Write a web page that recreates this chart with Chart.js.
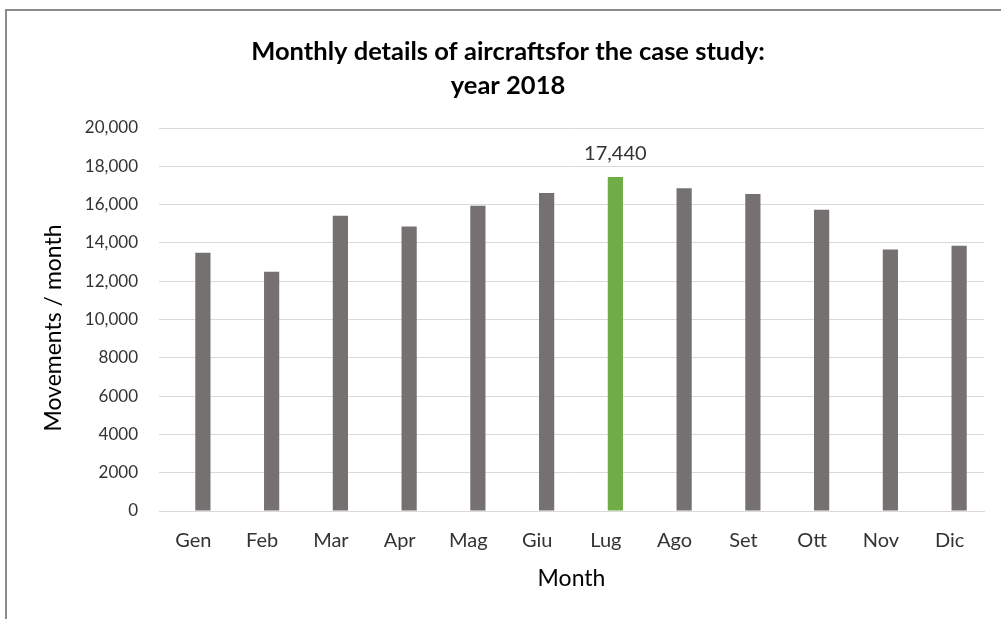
<!DOCTYPE html>
<html><head><meta charset="utf-8">
<script src="https://cdn.jsdelivr.net/npm/chart.js@4.4.1/dist/chart.umd.min.js"></script>
<style>
html,body{margin:0;padding:0;background:#fff;}
#wrap{position:relative;width:1001px;height:619px;overflow:hidden;background:#fff;}
#frame{position:absolute;left:5px;top:9px;width:1100px;height:700px;border-left:2px solid #8c8c8c;border-top:2px solid #8c8c8c;}
canvas{position:absolute;left:0;top:0;}
</style></head><body>
<div id="wrap"><div id="frame"></div><canvas id="c" width="1001" height="619"></canvas></div>
<script>
const months = ['Gen','Feb','Mar','Apr','Mag','Giu','Lug','Ago','Set','Ott','Nov','Dic'];
const movements = [13490,12500,15420,14860,15940,16600,17440,16860,16550,15730,13650,13850];
const yTickLabels = ['0','2000','4000','6000','8000','10,000','12,000','14,000','16,000','18,000','20,000'];
const highlightMonth = 'Lug';
const highlightLabel = '17,440';
const titleLines = ['Monthly details of aircraftsfor the case study:', 'year 2018'];
const yAxisTitle = 'Movements / month';
const xAxisTitle = 'Month';

const GRAY = '#767171', GREEN = '#70AD47', GRID = '#D9D9D9', TXT = '#333333';
const FONT = 'Lato, "Open Sans", sans-serif';
const barColors = months.map(m => m === highlightMonth ? GREEN : GRAY);

const extras = {
  id: 'extras',
  afterDatasetsDraw(chart) {
    const ctx = chart.ctx;
    const meta = chart.getDatasetMeta(1);
    const el = meta.data[months.indexOf(highlightMonth)];
    ctx.save();
    ctx.fillStyle = TXT;
    ctx.font = '20px ' + FONT;
    ctx.textAlign = 'center';
    ctx.textBaseline = 'middle';
    ctx.fillText(highlightLabel, el.x, el.y - 23);
    // y axis title
    ctx.translate(54, 328);
    ctx.rotate(-Math.PI / 2);
    ctx.font = '23px ' + FONT;
    ctx.fillStyle = '#000';
    ctx.fillText(yAxisTitle, 0, 0);
    ctx.restore();
  }
};

new Chart(document.getElementById('c'), {
  type: 'bar',
  data: {
    labels: months,
    datasets: [
      { label: '', data: [], backgroundColor: 'rgba(0,0,0,0)' },
      { label: 'Movements', data: movements, backgroundColor: barColors }
    ]
  },
  options: {
    responsive: false,
    animation: false,
    devicePixelRatio: 1,
    layout: { padding: { left: 32, right: 17, top: 10, bottom: 29 } },
    datasets: { bar: { categoryPercentage: 0.553, barPercentage: 0.8 } },
    plugins: {
      legend: { display: false },
      tooltip: { enabled: false },
      title: {
        display: true,
        text: titleLines,
        color: '#000',
        font: { family: FONT, size: 25.5, weight: 'bold', lineHeight: 34 / 25.5 },
        padding: { top: 25, bottom: 25 }
      }
    },
    scales: {
      x: {
        grid: { display: false },
        border: { display: true, color: GRID, width: 1 },
        ticks: { color: TXT, font: { family: FONT, size: 20, lineHeight: 1 }, padding: 12 },
        title: { display: true, text: xAxisTitle, color: '#000', font: { family: FONT, size: 23, lineHeight: 1 }, padding: { top: 4, bottom: 0 } }
      },
      y: {
        min: 0, max: 20000,
        afterFit(s) { s.width = 127; },
        grid: { color: GRID, lineWidth: 1, drawTicks: false },
        border: { display: false },
        ticks: { stepSize: 2000, color: TXT, font: { family: FONT, size: 17 }, padding: 21,
          callback: (v, i) => yTickLabels[i] }
      }
    }
  },
  plugins: [extras]
});
</script>
</body></html>
